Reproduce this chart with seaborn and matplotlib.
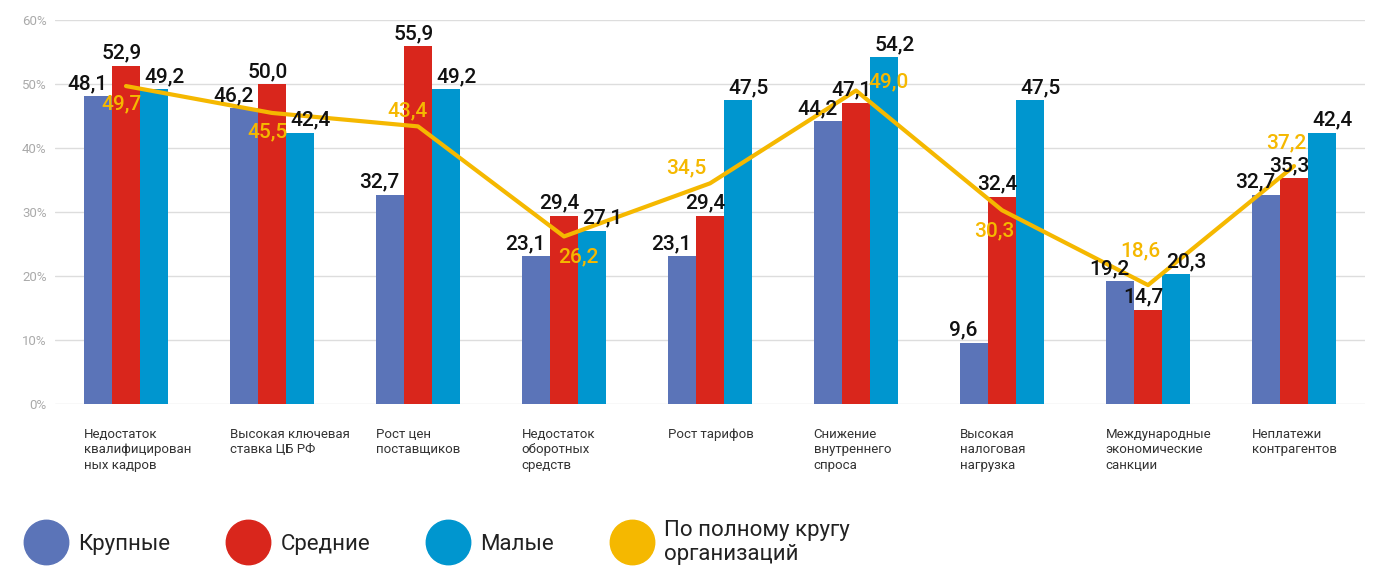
import pandas as pd
import matplotlib.pyplot as plt
import seaborn as sns
from matplotlib.lines import Line2D

# Data
categories = [
    "Недостаток\nквалифицирован\nных кадров",
    "Высокая ключевая\nставка ЦБ РФ",
    "Рост цен\nпоставщиков",
    "Недостаток\nоборотных\nсредств",
    "Рост тарифов",
    "Снижение\nвнутреннего\nспроса",
    "Высокая\nналоговая\nнагрузка",
    "Международные\nэкономические\nсанкции",
    "Неплатежи\nконтрагентов",
]
groups = ["Крупные", "Средние", "Малые"]
large = [48.1, 46.2, 32.7, 23.1, 23.1, 44.2, 9.6, 19.2, 32.7]
medium = [52.9, 50.0, 55.9, 29.4, 29.4, 47.1, 32.4, 14.7, 35.3]
small = [49.2, 42.4, 49.2, 27.1, 47.5, 54.2, 47.5, 20.3, 42.4]
total = [49.7, 45.5, 43.4, 26.2, 34.5, 49.0, 30.3, 18.6, 37.2]
total_label = "По полному кругу\nорганизаций"

colors = ["#5B74B8", "#D9261C", "#0096CF"]
line_color = "#F5B800"

df = pd.DataFrame({
    "cat": categories * 3,
    "group": [g for g in groups for _ in categories],
    "val": large + medium + small,
})

sns.set_style("white")
plt.rcParams["font.family"] = ["Roboto", "DejaVu Sans"]

fig = plt.figure(figsize=(13.76, 5.79), dpi=100)
ax = fig.add_axes([0.040, 0.302, 0.952, 0.6632])

sns.barplot(data=df, x="cat", y="val", hue="group", palette=colors,
            width=0.58, saturation=1, linewidth=0, legend=False, ax=ax, zorder=2)
sns.lineplot(x=list(range(len(total))), y=total, color=line_color,
             linewidth=3, ax=ax, zorder=3)

# value labels above bars (spread a bit, as in the reference)
label_dx = [-0.07, -0.03, 0.07]
for container, dx in zip(ax.containers, label_dx):
    for bar in container:
        h = bar.get_height()
        ax.text(bar.get_x() + bar.get_width() / 2 + dx, h + 0.5,
                f"{h:.1f}".replace(".", ","), ha="center", va="bottom",
                fontsize=15, fontweight="medium", color="#111111", zorder=5)

# labels for the total line (offsets from the point, in data units)
total_off = [(-0.03, -2.8), (-0.03, -2.9), (-0.07, 2.5), (0.10, -3.2), (-0.16, 2.4),
             (0.22, 1.3), (-0.05, -3.3), (-0.05, 5.4), (-0.05, 3.6)]
for i, (v, (dx, dy)) in enumerate(zip(total, total_off)):
    ax.text(i + dx, v + dy, f"{v:.1f}".replace(".", ","), ha="center", va="center",
            fontsize=15, fontweight="medium", color=line_color, zorder=6)

ax.set_ylim(0, 60)
ax.set_xlim(-0.486, 8.486)
ax.set_yticks(range(0, 61, 10))
ax.set_yticklabels([f"{t}%" for t in range(0, 61, 10)], color="#AAAAAA", fontsize=9.5)
ax.yaxis.grid(True, color="#DDDDDD", linewidth=1, zorder=0)
ax.set_axisbelow(True)
for s in ax.spines.values():
    s.set_visible(False)
ax.tick_params(axis="y", length=0, pad=6)
ax.set_xticks(range(len(categories)))
ax.set_xticklabels([])
ax.tick_params(axis="x", length=0)
ax.set_xlabel("")
ax.set_ylabel("")

# category labels, left aligned under each group
for i, c in enumerate(categories):
    ax.text(i - 0.29, -3.7, c, ha="left", va="top", fontsize=9.5,
            color="#333333", linespacing=1.25)

handles = [Line2D([], [], marker="o", linestyle="", markersize=32,
                  markerfacecolor=c, markeredgecolor=c) for c in colors + [line_color]]
fig.legend(handles, groups + [total_label], loc="lower left",
           bbox_to_anchor=(0.003, -0.01), ncol=4, frameon=False, fontsize=16,
           handletextpad=0.45, columnspacing=2.5, labelcolor="#222222")

fig.savefig("out.png", dpi=100)
